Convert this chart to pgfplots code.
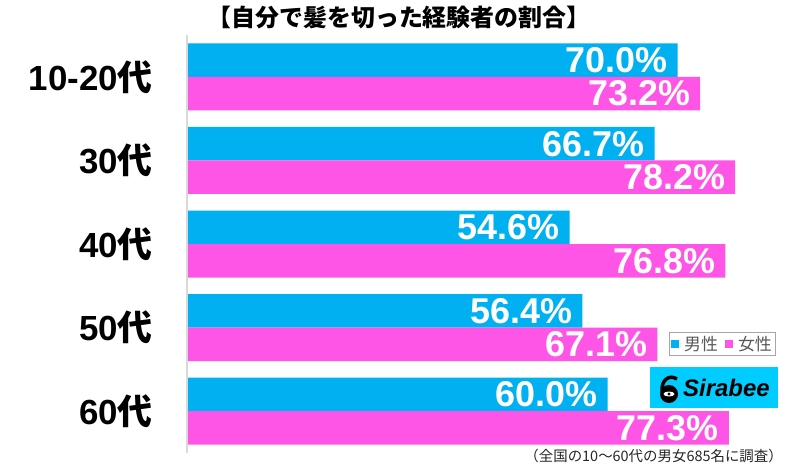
\documentclass[border=0pt]{standalone}
\usepackage{pgfplots}
\pgfplotsset{compat=1.18}
\usepackage{fontspec}
\setmainfont{Liberation Sans}
\newfontfamily\cjk{Noto Sans CJK JP}
\definecolor{male}{HTML}{00B0F0}
\definecolor{female}{HTML}{FF55E6}
\definecolor{sira}{HTML}{00CCFF}
\definecolor{axgray}{HTML}{D9D9D9}
\definecolor{leggray}{HTML}{595959}
\begin{document}
\begin{tikzpicture}[x=1bp,y=-1bp]
\useasboundingbox (0,0) rectangle (800,466);
\begin{axis}[
  at={(187bp,-453bp)}, anchor=south west,
  scale only axis, width=613bp, height=418bp,
  xbar, xbar=0pt, bar width=33.5bp,
  xmin=0, xmax=87.45, ymin=-0.5, ymax=4.5, y dir=reverse,
  axis line style={draw=none},
  xtick=\empty,
  ytick={0,1,2,3,4},
  yticklabels={{10-20{\cjk 代}},{30{\cjk 代}},{40{\cjk 代}},{50{\cjk 代}},{60{\cjk 代}}},
  major tick length=0pt,
  yticklabel style={font=\fontsize{35}{35}\selectfont\bfseries, inner sep=0pt, xshift=-34bp},
  nodes near coords={\pgfmathprintnumber[fixed,fixed zerofill,precision=1,assume math mode=true]{\pgfplotspointmeta}\%},
  nodes near coords style={anchor=east, inner sep=0pt, xshift=-10bp, text=white, font=\fontsize{36}{36}\selectfont\bfseries},
  legend columns=2,
  legend image code/.code={\fill[#1] (0bp,-4bp) rectangle (8bp,4bp); \path (0bp,0bp) -- (11bp,0bp);},
  legend style={at={(0.8736,0.2608)}, anchor=center, draw=gray!70, line width=1bp,
    font=\cjk\fontsize{17}{17}\selectfont, text=leggray, inner sep=2bp,
    /tikz/every even column/.append style={column sep=5bp}},
]
\addplot[fill=male, draw=none, bar shift=16.75bp] coordinates {(70.0,0) (66.7,1) (54.6,2) (56.4,3) (60.0,4)};
\addplot[fill=female, draw=none, bar shift=-16.75bp] coordinates {(73.2,0) (78.2,1) (76.8,2) (67.1,3) (77.3,4)};
\legend{男性,女性}
\end{axis}
\draw[axgray, line width=1.5bp] (187,35) -- (187,453);
\node[font=\cjk\bfseries\fontsize{24}{24}\selectfont] at (399,18) {【自分で髪を切った経験者の割合】};
\node[anchor=east, inner sep=0pt, font=\cjk\fontsize{14.5}{14.5}\selectfont, text=black!85] at (783,456) {（全国の10〜60代の男女685名に調査）};
\fill[sira] (650,367) rectangle (778,408);
\node[anchor=west, inner sep=0pt, font=\bfseries\itshape\fontsize{24}{24}\selectfont] at (683,388) {Sirabee};
\fill (669,394) circle (9bp);
\draw[line width=3.5bp] (662,392) .. controls (661,380) and (669,374) .. (677,379);
\fill[white] (669,394) ellipse (5.5bp and 2.5bp);
\fill (669,394) circle (1.6bp);
\end{tikzpicture}
\end{document}
